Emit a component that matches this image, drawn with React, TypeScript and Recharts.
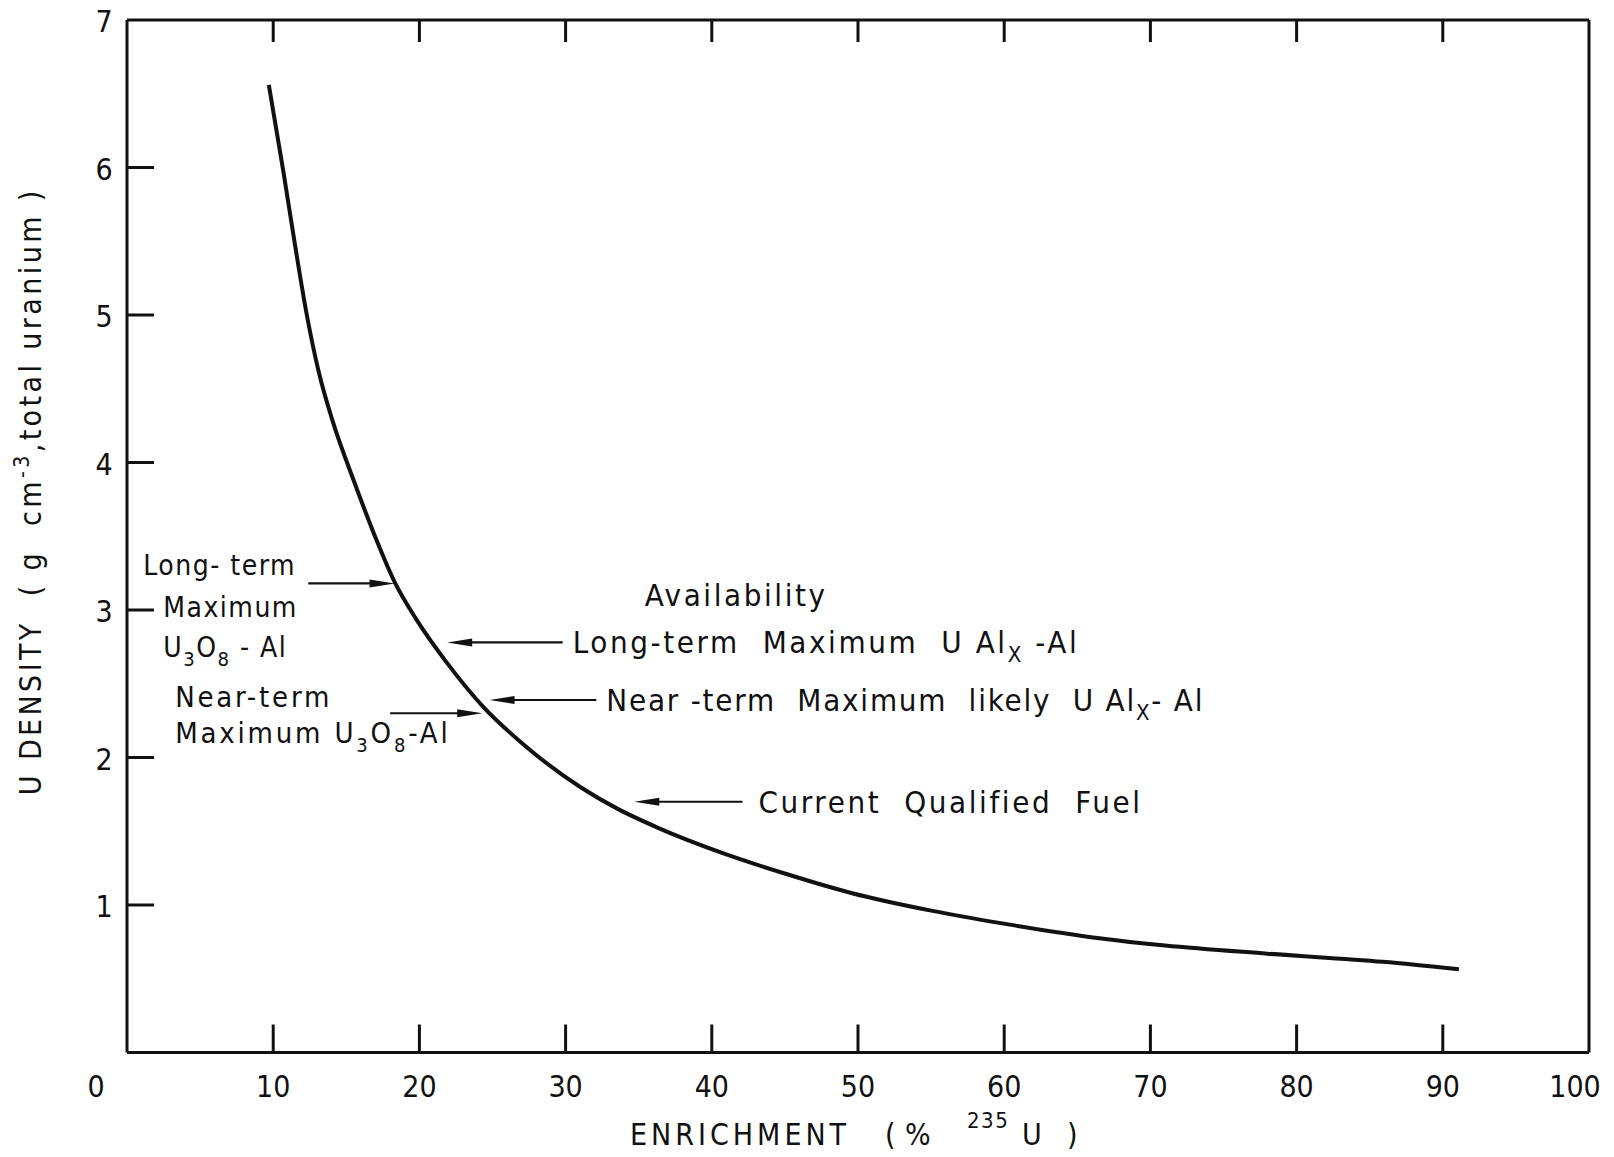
import React from 'react';
import { LineChart, Line, XAxis, YAxis, ReferenceLine, Label } from 'recharts';

// curve: enrichment (% 235U) vs U density (g/cm3)
const enrichment = [9.7, 10.7, 11.5, 12.3, 13.1, 14.1, 15.5, 17.0, 18.3, 19.8, 21.9, 24.4, 27.1, 31.0, 33.5, 36.4, 40.8, 45.1, 49.6, 55.1, 60.8, 66.5, 71.0, 78.0, 85.9, 91.1];
const density = [6.56, 5.97, 5.47, 5.0, 4.62, 4.27, 3.88, 3.49, 3.19, 2.935, 2.64, 2.34, 2.09, 1.8, 1.655, 1.52, 1.35, 1.21, 1.08, 0.96, 0.86, 0.775, 0.725, 0.67, 0.615, 0.565];

const xTicks = [0, 10, 20, 30, 40, 50, 60, 70, 80, 90, 100];
const xInnerTicks = [10, 20, 30, 40, 50, 60, 70, 80, 90];
const yTicks = [1, 2, 3, 4, 5, 6, 7];
const yInnerTicks = [1, 2, 3, 4, 5, 6];

// annotation arrows: level (density), tail and tip (enrichment)
const arrowLevel = [3.18, 2.3, 2.78, 2.39, 1.7];
const arrowTail = [12.4, 18.0, 29.8, 32.1, 42.1];
const arrowTip = [18.3, 24.3, 21.9, 24.8, 34.7];

const rows = enrichment.map((x, i) => ({ x, u: density[i] }));

const ink = '#111';
const font = "'DejaVu Sans Condensed', 'DejaVu Sans', sans-serif";
const base = { fontFamily: font, fill: ink, style: { whiteSpace: 'pre' as const } };
const txtLeft = { ...base, fontSize: 28, letterSpacing: 1.5 };
const txtNear = { ...base, fontSize: 29, letterSpacing: 2.8 };
const txtRight = { ...base, fontSize: 31, letterSpacing: 2.6 };

const renderNote = (i: number, tx: number, ty: number) => {
  if (i === 0) {
    return (
      <g>
        <text {...txtLeft} x={tx - 165} y={ty - 8}>Long- term</text>
        <text {...txtLeft} x={tx - 145} y={ty + 34}>Maximum</text>
        <text {...txtLeft} x={tx - 145} y={ty + 74}>
          U<tspan fontSize={20} dy={9}>3</tspan><tspan dy={-9}>O</tspan><tspan fontSize={20} dy={9}>8</tspan><tspan dy={-9}> - Al</tspan>
        </text>
      </g>
    );
  }
  if (i === 1) {
    return (
      <g>
        <text {...txtNear} x={tx - 215} y={ty - 6}>Near-term</text>
        <text {...txtNear} x={tx - 215} y={ty + 30}>
          Maximum U<tspan fontSize={20} dy={9}>3</tspan><tspan dy={-9}>O</tspan><tspan fontSize={20} dy={9}>8</tspan><tspan dy={-9}>-Al</tspan>
        </text>
      </g>
    );
  }
  if (i === 2) {
    return (
      <g>
        <text {...txtRight} x={tx + 82} y={ty - 36}>Availability</text>
        <text {...txtRight} x={tx + 10} y={ty + 11}>
          Long-term  Maximum  U Al<tspan fontSize={22} dy={9}>X</tspan><tspan dy={-9}> -Al</tspan>
        </text>
      </g>
    );
  }
  if (i === 3) {
    return (
      <text {...txtRight} letterSpacing={1.8} x={tx + 10} y={ty + 11}>
        Near -term  Maximum  likely  U Al<tspan fontSize={22} dy={9}>X</tspan><tspan dy={-9}>- Al</tspan>
      </text>
    );
  }
  return <text {...txtRight} x={tx + 16} y={ty + 11}>Current  Qualified  Fuel</text>;
};

const makeArrow = (i: number) => (p: any) => {
  const { x1, y1, x2, y2 } = p;
  const dir = Math.sign(x2 - x1) || 1;
  const head = 25;
  const half = 4;
  return (
    <g>
      <line x1={x1} y1={y1} x2={x2 - dir * head * 0.5} y2={y2} stroke={ink} strokeWidth={2.2} />
      <polygon points={`${x2},${y2} ${x2 - dir * head},${y2 - half} ${x2 - dir * head},${y2 + half}`} fill={ink} />
      {renderNote(i, x1, y1)}
    </g>
  );
};

const BottomTick = ({ x, y, payload }: any) => {
  const v = payload.value;
  const shift = v === 0 ? -31 : v === 100 ? -14 : 0;
  return (
    <g>
      {v > 0 && v < 100 && <line x1={x} y1={y} x2={x} y2={y - 28} stroke={ink} strokeWidth={3} />}
      <text x={x + shift} y={y + 44} textAnchor="middle" fontSize={30} fill={ink} fontFamily={font}>{v}</text>
    </g>
  );
};

const TopTick = ({ x, y }: any) => <line x1={x} y1={y} x2={x} y2={y + 22} stroke={ink} strokeWidth={3} />;

const LeftTick = ({ x, y, payload }: any) => {
  const v = payload.value;
  return (
    <g>
      {v < 7 && <line x1={x} y1={y} x2={x + 27} y2={y} stroke={ink} strokeWidth={3} />}
      <text x={x - 23} y={y + 12} textAnchor="middle" fontSize={30} fill={ink} fontFamily={font}>{v}</text>
    </g>
  );
};

const RightTick = ({ x, y }: any) => <line x1={x} y1={y} x2={x - 21} y2={y} stroke={ink} strokeWidth={3} />;

const YTitle = ({ viewBox }: any) => {
  const cx = viewBox.x - 36;
  const cy = viewBox.y + viewBox.height / 2 - 45;
  return (
    <text {...base} fontSize={30} letterSpacing={3.4} x={cx} y={cy + 10} textAnchor="middle" transform={`rotate(-90, ${cx}, ${cy})`}>
      U DENSITY  ( g  cm<tspan fontSize={21} dy={-12}>-3</tspan><tspan dy={12}>,total uranium )</tspan>
    </text>
  );
};

const XTitle = ({ viewBox }: any) => {
  const y = viewBox.y + 92;
  const x0 = viewBox.x;
  return (
    <g>
      <text {...base} fontSize={30} letterSpacing={4} x={x0 + 503} y={y}>ENRICHMENT</text>
      <text {...base} fontSize={30} x={x0 + 758} y={y}>(</text>
      <text {...base} fontSize={30} x={x0 + 778} y={y}>%</text>
      <text {...base} fontSize={22} letterSpacing={1.5} x={x0 + 840} y={y - 17}>235</text>
      <text {...base} fontSize={30} x={x0 + 895} y={y}>U</text>
      <text {...base} fontSize={30} x={x0 + 940} y={y}>)</text>
    </g>
  );
};

const axisLine = { stroke: ink, strokeWidth: 3 };

export default function App() {
  return (
    <div style={{ margin: -8 }}>
      <LineChart width={1614} height={1157} data={rows} margin={{ top: 19, right: 24, bottom: 44.5, left: 67 }}>
        <XAxis xAxisId="b" type="number" dataKey="x" domain={[0, 100]} ticks={xTicks} interval={0} height={60}
          axisLine={axisLine} tickLine={false} tickSize={0} tickMargin={0} tick={<BottomTick />}>
          <Label content={<XTitle />} />
        </XAxis>
        <XAxis xAxisId="t" orientation="top" type="number" dataKey="x" domain={[0, 100]} ticks={xInnerTicks} interval={0} height={1}
          axisLine={axisLine} tickLine={false} tickSize={0} tickMargin={0} tick={<TopTick />} />
        <YAxis yAxisId="l" type="number" domain={[0, 7]} ticks={yTicks} interval={0} width={60}
          axisLine={axisLine} tickLine={false} tickSize={0} tickMargin={0} tick={<LeftTick />}>
          <Label content={<YTitle />} />
        </YAxis>
        <YAxis yAxisId="r" orientation="right" type="number" domain={[0, 7]} ticks={yInnerTicks} interval={0} width={1}
          axisLine={axisLine} tickLine={false} tickSize={0} tickMargin={0} tick={<RightTick />} />
        <Line xAxisId="b" yAxisId="l" type="monotone" dataKey="u" stroke={ink} strokeWidth={4} dot={false} isAnimationActive={false} />
        {arrowLevel.map((lv, i) => (
          <ReferenceLine key={i} xAxisId="b" yAxisId="l"
            segment={[{ x: arrowTail[i], y: lv }, { x: arrowTip[i], y: lv }]}
            shape={makeArrow(i)} />
        ))}
      </LineChart>
    </div>
  );
}
